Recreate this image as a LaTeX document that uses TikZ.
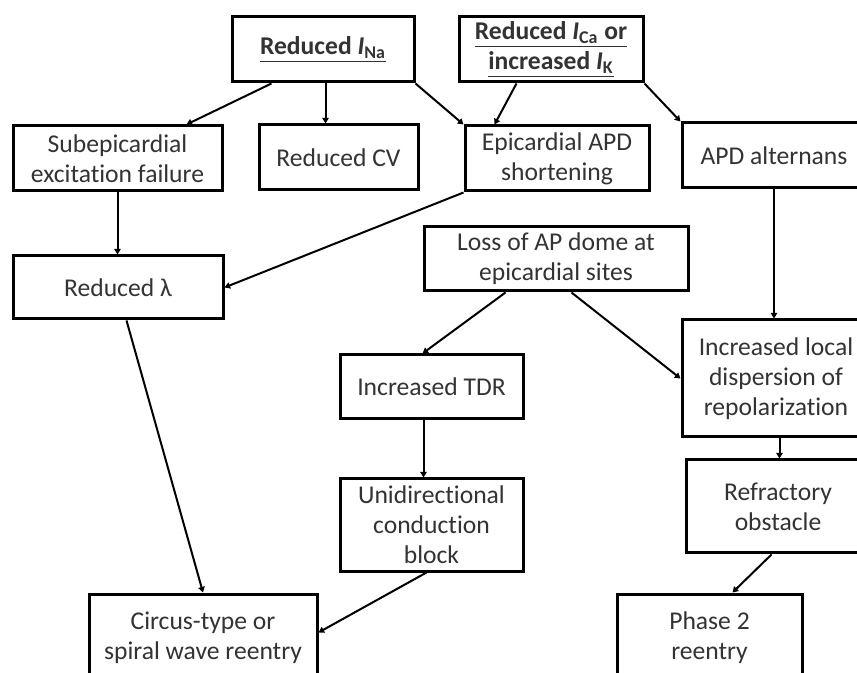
\documentclass[tikz,border=0pt]{standalone}
\usepackage{fontspec}
\setmainfont{Carlito}[Ligatures=NoCommon]
\usetikzlibrary{arrows.meta,calc}

\begin{document}
\begin{tikzpicture}[x=0.5pt,y=-0.5pt,
  box/.style={draw=black, line width=1.5pt, align=center, inner sep=1pt,
    text=black!80, font=\fontsize{12.8}{15}\selectfont},
  arr/.style={-{Triangle[length=2.8pt,width=3.2pt]}, line width=1pt}]

% Frame of the picture
\useasboundingbox (0,0) rectangle (857,673); % Fixed size of the page
\fill[white] (0,0) rectangle (857,673); % White background
\clip (0,0) rectangle (857,673); % Boxes at the edges are cut off

% Top row
\node[box, minimum width=91pt, minimum height=32.5pt] (ina) at (323,49.5) {\underline{\textbf{Reduced \textit{I}\textsubscript{Na}}}}; % Sodium current
\node[box, minimum width=92pt, minimum height=32.5pt] (ica) at (551,49.5) {\underline{\textbf{Reduced \textit{I}\textsubscript{Ca} or}}\\\underline{\textbf{increased \textit{I}\textsubscript{K}}}}; % Calcium or potassium current

% Second row
\node[box, minimum width=104.5pt, minimum height=32.5pt] (subepi) at (117.5,158.5) {Subepicardial\\excitation failure};
\node[box, minimum width=79.5pt, minimum height=32.5pt] (cv) at (338.5,157.5) {Reduced CV};
\node[box, minimum width=92pt, minimum height=32.5pt] (epiapd) at (557,158.5) {Epicardial APD\\shortening};
\node[box, minimum width=92pt, minimum height=32.5pt] (altern) at (774,155.5) {APD alternans};

% Middle
\node[box, minimum width=105pt, minimum height=31.5pt] (lambda) at (118,287.5) {Reduced λ};
\node[box, minimum width=132pt, minimum height=32pt] (dome) at (556,259) {Loss of AP dome at\\epicardial sites};
\node[box, minimum width=94pt, minimum height=58.5pt] (disp) at (776,378.5) {Increased local\\dispersion of\\repolarization};
\node[box, minimum width=91.5pt, minimum height=32pt] (tdr) at (431.5,387) {Increased TDR};
\node[box, minimum width=91.5pt, minimum height=46pt] (block) at (431.5,525) {Unidirectional\\conduction\\block};
\node[box, minimum width=92pt, minimum height=46.5pt] (obst) at (778,506.5) {Refractory\\obstacle};

% Bottom row
\node[box, minimum width=114pt, minimum height=44pt] (circus) at (203,638) {Circus-type or\\spiral wave reentry};
\node[box, minimum width=92.5pt, minimum height=44pt] (phase) at (709.5,638) {Phase 2\\reentry};

% Arrows
\draw[arr] ($(ina.south west)+(41,0)$) -- ($(subepi.north west)+(175,0)$);
\draw[arr] ($(ina.south west)+(95,0)$) -- ($(cv.north west)+(68,0)$);
\draw[arr] (ina.south east) -- (epiapd.north west);
\draw[arr] ($(ica.south west)+(59,0)$) -- ($(epiapd.north west)+(31,0)$);
\draw[arr] (ica.south east) -- (altern.north west);
\draw[arr] (subepi.south) -- (subepi.south |- lambda.north);
\draw[arr] (epiapd.south west) -- (lambda.east);
\draw[arr] (altern.south) -- (altern.south |- disp.north);
\draw[arr] ($(dome.south west)+(83,0)$) -- ($(tdr.north west)+(84,0)$);
\draw[arr] ($(dome.south west)+(149,0)$) -- (disp.west);
\draw[arr] ($(lambda.south west)+(115,0)$) -- (circus.north);
\draw[arr] ($(tdr.south west)+(85,0)$) -- ($(block.north west)+(85,0)$);
\draw[arr] ($(block.south west)+(88,0)$) -- ($(circus.north east)+(0,40)$);
\draw[arr] ($(disp.south west)+(99,0)$) -- ($(obst.north west)+(95,0)$);
\draw[arr] ($(obst.south west)+(87,0)$) -- ($(phase.north west)+(117,0)$);

\end{tikzpicture}
\end{document}
